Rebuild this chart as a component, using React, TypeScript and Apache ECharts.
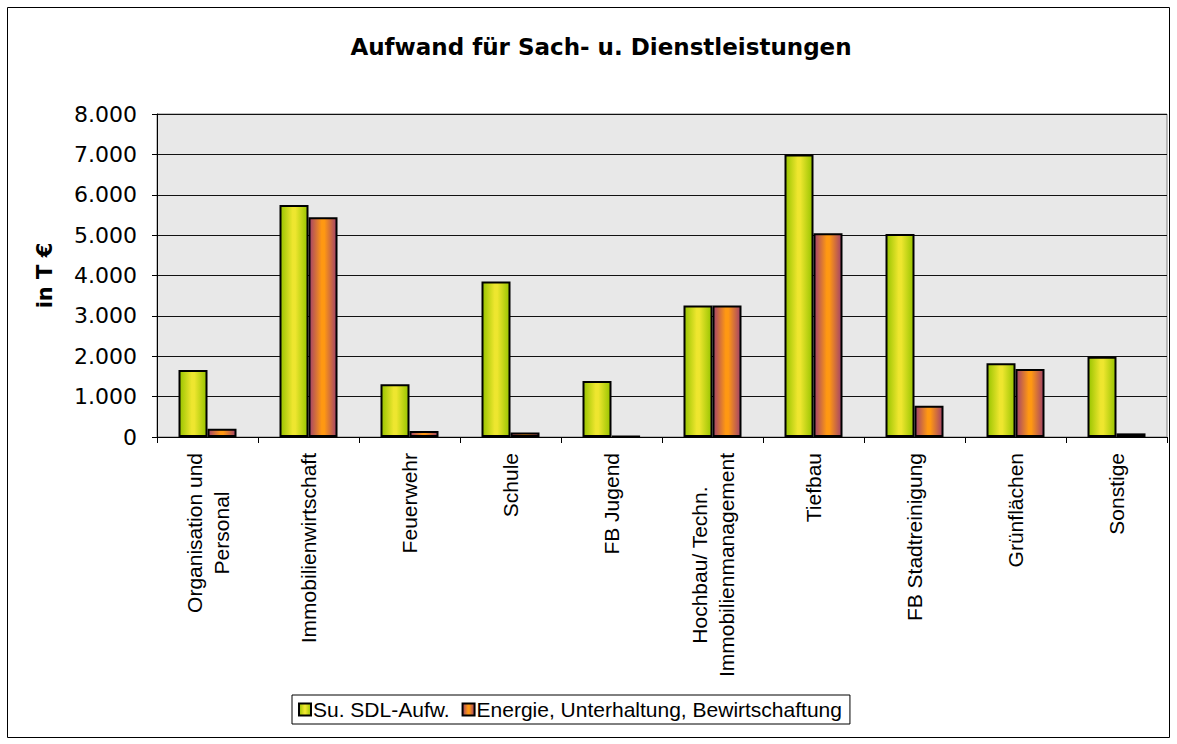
import React, { useEffect, useRef } from "react";
import * as echarts from "echarts";

const titleText = "Aufwand für Sach- u. Dienstleistungen";
const yAxisName = "in T €";
const categories = [
  "Organisation und\nPersonal",
  "Immobilienwirtschaft",
  "Feuerwehr",
  "Schule",
  "FB Jugend",
  "Hochbau/ Techn.\nImmobilienmanagement",
  "Tiefbau",
  "FB Stadtreinigung",
  "Grünflächen",
  "Sonstige",
];
const seriesNames = ["Su. SDL-Aufw.", "Energie, Unterhaltung, Bewirtschaftung"];
const sdlValues = [1660, 5745, 1305, 3850, 1390, 3260, 7000, 5030, 1825, 1990];
const energieValues = [205, 5440, 150, 110, 20, 3260, 5045, 775, 1685, 90];
const yMin = 0;
const yMax = 8000;
const yStep = 1000;

const fmt = (v: number) => String(v).replace(/\B(?=(\d{3})+(?!\d))/g, ".");

const greenGrad = () =>
  new echarts.graphic.LinearGradient(0, 0, 1, 0, [
    { offset: 0, color: "#98c400" },
    { offset: 0.45, color: "#eee62f" },
    { offset: 0.55, color: "#eee62f" },
    { offset: 1, color: "#98c400" },
  ]);
const orangeGrad = () =>
  new echarts.graphic.LinearGradient(0, 0, 1, 0, [
    { offset: 0, color: "#a2436a" },
    { offset: 0.45, color: "#ff9812" },
    { offset: 0.55, color: "#ff9812" },
    { offset: 1, color: "#a2436a" },
  ]);

export default function App() {
  const ref = useRef<HTMLDivElement>(null);
  useEffect(() => {
    document.body.style.margin = "0";
    const chart = echarts.init(ref.current!, undefined, { renderer: "svg" });
    chart.setOption({
      animation: false,
      backgroundColor: "#ffffff",
      title: {
        text: titleText,
        left: 596,
        textAlign: "center",
        top: 30,
        textStyle: {
          fontFamily: "DejaVu Sans",
          fontWeight: "bold",
          fontSize: 23,
          color: "#000",
        },
      },
      graphic: [
        {
          type: "rect",
          shape: { x: 7.5, y: 7.5, width: 1162, height: 730 },
          style: { fill: "none", stroke: "#000", lineWidth: 1 },
          silent: true,
        },
      ],
      legend: {
        left: 292,
        top: 695,
        padding: [4, 8, 4, 6],
        itemGap: 12,
        itemWidth: 12,
        itemHeight: 12,
        borderColor: "#000",
        borderWidth: 1,
        icon: "rect",
        textStyle: { fontFamily: "Liberation Sans", fontSize: 21, color: "#000", padding: [0, 0, 0, -3] },
        data: seriesNames,
      },
      grid: {
        left: 157,
        right: 10,
        top: 114,
        bottom: 307,
        show: true,
        backgroundColor: "#e8e8e8",
        borderColor: "#808080",
        borderWidth: 1,
      },
      xAxis: {
        type: "category",
        data: categories,
        axisLine: { lineStyle: { color: "#000", width: 1 } },
        axisTick: { show: true, length: 6, lineStyle: { color: "#000" } },
        axisLabel: {
          interval: 0,
          rotate: 90,
          margin: 16,
          formatter: (v: string) =>
            v
              .split("\n")
              .map((l) => "{c|" + l + "}")
              .join("\n"),
          rich: {
            c: {
              align: "center",
              fontFamily: "Liberation Sans",
              fontSize: 21,
              color: "#000",
              lineHeight: 27,
            },
          },
        },
      },
      yAxis: {
        type: "value",
        min: yMin,
        max: yMax,
        interval: yStep,
        name: yAxisName,
        nameLocation: "middle",
        nameRotate: 90,
        nameGap: 102,
        nameTextStyle: {
          fontFamily: "DejaVu Sans",
          fontWeight: "bold",
          fontSize: 21,
          color: "#000",
        },
        axisLine: { show: true, lineStyle: { color: "#000", width: 1 } },
        axisTick: { show: true, length: 5, lineStyle: { color: "#000" } },
        axisLabel: {
          margin: 20,
          fontFamily: "DejaVu Sans",
          fontSize: 22,
          color: "#000",
          formatter: (v: number) => fmt(v),
        },
        splitLine: { show: true, lineStyle: { color: "#111", width: 1 } },
      },
      series: [
        {
          name: seriesNames[0],
          type: "bar",
          data: sdlValues,
          barWidth: 29,
          barGap: "0%",
          itemStyle: { color: greenGrad(), borderColor: "#000", borderWidth: 2 },
        },
        {
          name: seriesNames[1],
          type: "bar",
          data: energieValues,
          barWidth: 29,
          barGap: "0%",
          itemStyle: { color: orangeGrad(), borderColor: "#000", borderWidth: 2 },
        },
      ],
    });
    return () => chart.dispose();
  }, []);
  return <div ref={ref} style={{ width: 1177, height: 744 }} />;
}
